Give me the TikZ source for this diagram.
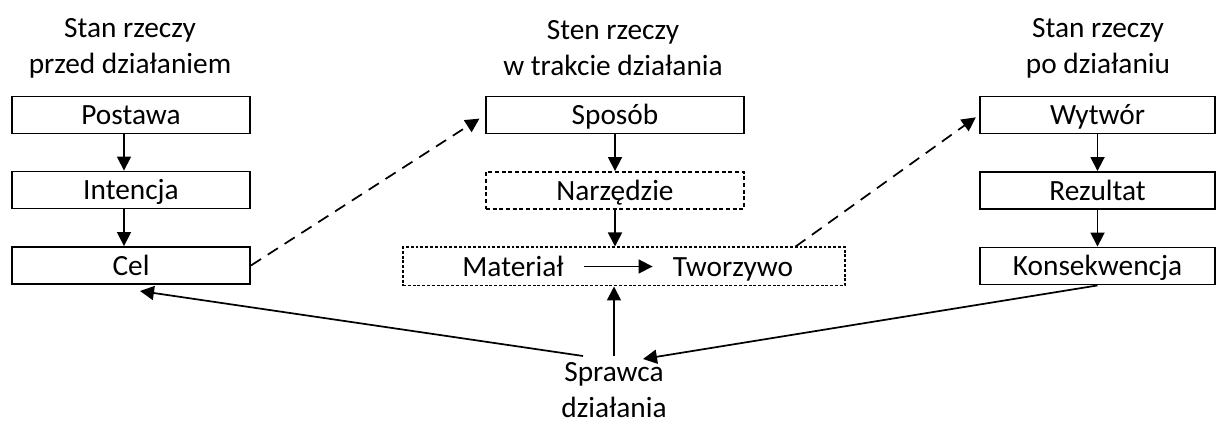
\documentclass[tikz,border=0pt]{standalone}
\usepackage{fontspec}
\setmainfont{Carlito}
\usetikzlibrary{arrows.meta,calc}
\begin{document}
\begin{tikzpicture}[x=0.75pt,y=-0.75pt,
  every node/.style={font=\fontsize{22}{27}\selectfont},
  one/.style={text height=20pt,text depth=5pt},
  box/.style={draw,one,line width=1.4pt,minimum height=27.75pt,inner sep=0pt},
  dbox/.style={box,dash pattern=on 3pt off 2pt},
  fbox/.style={draw,line width=1pt,dash pattern=on 2.2pt off 1.4pt,minimum height=29pt,inner sep=0pt},
  lbl/.style={align=center,inner sep=0pt},
  arr/.style={line width=1.3pt,-{Triangle[length=10.5pt,width=10.5pt]}},
  darr/.style={arr,dash pattern=on 9pt off 6pt}]
\useasboundingbox (0,0) rectangle (1216,423);

% column headings
\node[lbl] (h1) at (130,48) {Stan rzeczy\\przed działaniem};
\node[lbl] (h2) at (613,48) {Sten rzeczy\\w trakcie działania};
\node[lbl] (h3) at (1098,48) {Stan rzeczy\\po działaniu};

% left column
\node[box,minimum width=178.5pt] (postawa) at (131,115) {Postawa};
\node[box,minimum width=178.5pt] (intencja) at (131,190) {Intencja};
\node[box,minimum width=178.5pt] (cel) at (131,265.5) {Cel};

% middle column
\node[box,minimum width=193.5pt] (sposob) at (615,115) {Sposób};
\node[dbox,minimum width=193.5pt] (narz) at (615,190.5) {Narzędzie};
\node[fbox,minimum width=331.5pt] (matbox) at (624,266.5) {};
\node[one,inner xsep=15pt,inner ysep=0pt] (mat) at (513,266.5) {Materiał};
\node[one,inner xsep=15pt,inner ysep=0pt] (tw) at (733,266.5) {Tworzywo};

% right column
\node[box,minimum width=176.25pt] (wytwor) at (1097.5,115) {Wytwór};
\node[box,minimum width=176.25pt] (rez) at (1097.5,190.5) {Rezultat};
\node[box,minimum width=176.25pt] (kons) at (1097.5,266) {Konsekwencja};

% agent
\node[lbl] (spr) at (614,390) {Sprawca\\działania};

% connector end points
\coordinate (sprL) at (583,356);
\coordinate (sprR) at (643,359);
\coordinate (celIn) at (140,291);

% vertical flows
\draw[arr] ($(postawa.south)+(-7,0)$) -- ($(intencja.north)+(-7,0)$);
\draw[arr] ($(intencja.south)+(-7,0)$) -- ($(cel.north)+(-7,0)$);
\draw[arr] (sposob.south) -- (narz.north);
\draw[arr] (narz.south) -- (narz.south |- matbox.north);
\draw[arr] (wytwor.south) -- (rez.north);
\draw[arr] (rez.south) -- (kons.north);
\draw[arr] (mat.east) -- (tw.west);

% transitions between stages
\draw[darr,shorten >=5pt] (cel.east) -- (sposob.west);
\draw[darr,shorten >=3pt] ($(matbox.north east)+(-50,0)$) -- (wytwor.west);

% agent links
\draw[arr] (sprL) -- (celIn);
\draw[arr] (spr.north |- sprL) -- (spr.north |- matbox.south);
\draw[arr] (kons.south) -- (sprR);
\end{tikzpicture}
\end{document}
